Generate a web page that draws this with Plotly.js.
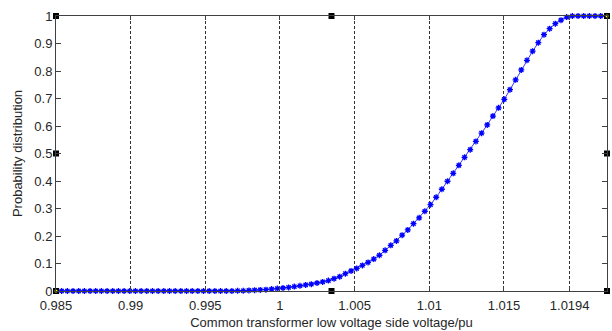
<!DOCTYPE html>
<html>
<head>
<meta charset="utf-8">
<script src="https://cdn.plot.ly/plotly-3.0.1.min.js"></script>
<style>html,body{margin:0;padding:0;background:#fff;}#chart{width:612px;height:331px;}</style>
</head>
<body>
<div id="chart"></div>
<script>
// Voltage samples (pu)
var voltage = [
0.98500,0.98538,0.98576,0.98614,0.98652,0.98690,0.98728,0.98766,0.98804,0.98842,
0.98880,0.98918,0.98956,0.98994,0.99032,0.99070,0.99108,0.99146,0.99184,0.99222,
0.99260,0.99298,0.99336,0.99374,0.99412,0.99450,0.99488,0.99526,0.99564,0.99602,
0.99640,0.99678,0.99716,0.99754,0.99792,0.99830,0.99868,0.99906,0.99944,0.99982,
1.00020,1.00058,1.00096,1.00134,1.00172,1.00210,1.00248,1.00286,1.00324,1.00362,
1.00400,1.00438,1.00476,1.00514,1.00552,1.00590,1.00628,1.00666,1.00704,1.00742,
1.00780,1.00818,1.00856,1.00894,1.00932,1.00970,1.01008,1.01046,1.01084,1.01122,
1.01160,1.01198,1.01236,1.01274,1.01312,1.01350,1.01388,1.01426,1.01464,1.01502,
1.01540,1.01578,1.01616,1.01654,1.01692,1.01730,1.01768,1.01806,1.01844,1.01882,
1.01920,1.01958,1.01996,1.02034,1.02072,1.02110,1.02148,1.02186
];
// Cumulative probability
var probability = [
0,0,0,0,0,0,0,0,0,0,
0,0,0,0,0,0,0,0,0,0,
0,0,0,0,0,0,0,0,0,0,
0,0.000,0.001,0.001,0.002,0.003,0.004,0.005,0.007,0.009,
0.011,0.013,0.016,0.019,0.022,0.025,0.029,0.033,0.038,0.045,
0.052,0.063,0.073,0.082,0.093,0.104,0.116,0.130,0.148,0.166,
0.182,0.203,0.222,0.245,0.266,0.290,0.314,0.341,0.370,0.399,
0.428,0.457,0.486,0.514,0.544,0.574,0.604,0.636,0.666,0.697,
0.732,0.768,0.804,0.839,0.872,0.903,0.932,0.954,0.972,0.985,
0.996,1,1,1,1,1,1,1
];
var xTickVals = [0.985, 0.99, 0.995, 1, 1.005, 1.01, 1.015, 1.0194];
var xTickText = ['0.985', '0.99', '0.995', '1', '1.005', '1.01', '1.015', '1.0194'];
var yTickVals = [0, 0.1, 0.2, 0.3, 0.4, 0.5, 0.6, 0.7, 0.8, 0.9, 1];
var yTickText = ['0', '0.1', '0.2', '0.3', '0.4', '0.5', '0.6', '0.7', '0.8', '0.9', '1'];
var xRange = [0.985, 1.0219];
var yRange = [0, 1];

var xMid = (xRange[0] + xRange[1]) / 2;
var handleX = [xRange[0], xRange[0], xRange[0], xMid, xMid, xRange[1], xRange[1], xRange[1]];
var handleY = [yRange[0], 0.5, yRange[1], yRange[0], yRange[1], yRange[0], 0.5, yRange[1]];

var font = {family: 'Liberation Sans, Arial, sans-serif', size: 13, color: '#262626'};

var traces = [
  {
    x: voltage, y: probability, type: 'scatter', mode: 'lines+markers',
    line: {color: '#3a3aff', width: 1},
    marker: {symbol: 'asterisk-open', size: 5, color: '#0000ff', line: {color: '#0000ff', width: 1.3}},
    cliponaxis: false, showlegend: false, hoverinfo: 'skip'
  },
  {
    x: handleX, y: handleY, type: 'scatter', mode: 'markers',
    marker: {symbol: 'square', size: 6, color: '#000000'},
    cliponaxis: false, showlegend: false, hoverinfo: 'skip'
  },
  {
    x: [xRange[0], xRange[1]], y: [yRange[0], yRange[1]], type: 'scatter', mode: 'markers',
    marker: {symbol: 'circle', size: 3, color: '#ffff00'},
    cliponaxis: false, showlegend: false, hoverinfo: 'skip'
  }
];

var layout = {
  width: 612, height: 331,
  margin: {l: 56, r: 5, t: 16, b: 40, pad: 0},
  paper_bgcolor: '#ffffff', plot_bgcolor: '#ffffff',
  font: font,
  showlegend: false,
  xaxis: {
    range: xRange, tickmode: 'array', tickvals: xTickVals, ticktext: xTickText,
    ticks: 'inside', ticklen: 4, tickcolor: '#404040', mirror: 'ticks',
    showline: true, linecolor: '#404040', linewidth: 1,
    showgrid: true, gridcolor: '#303030', gridwidth: 1, griddash: '3px,2px',
    zeroline: false, tickfont: font, ticklabelstandoff: 2,
    title: {text: 'Common transformer low voltage side voltage/pu', font: font, standoff: 6}
  },
  yaxis: {
    range: yRange, tickmode: 'array', tickvals: yTickVals, ticktext: yTickText,
    ticks: 'inside', ticklen: 5, tickcolor: '#404040', mirror: 'ticks',
    showline: true, linecolor: '#404040', linewidth: 1,
    showgrid: false, zeroline: false, tickfont: font,
    title: {text: 'Probability distribution', font: font, standoff: 8}
  }
};

Plotly.newPlot('chart', traces, layout, {displayModeBar: false, staticPlot: true});
</script>
</body>
</html>
